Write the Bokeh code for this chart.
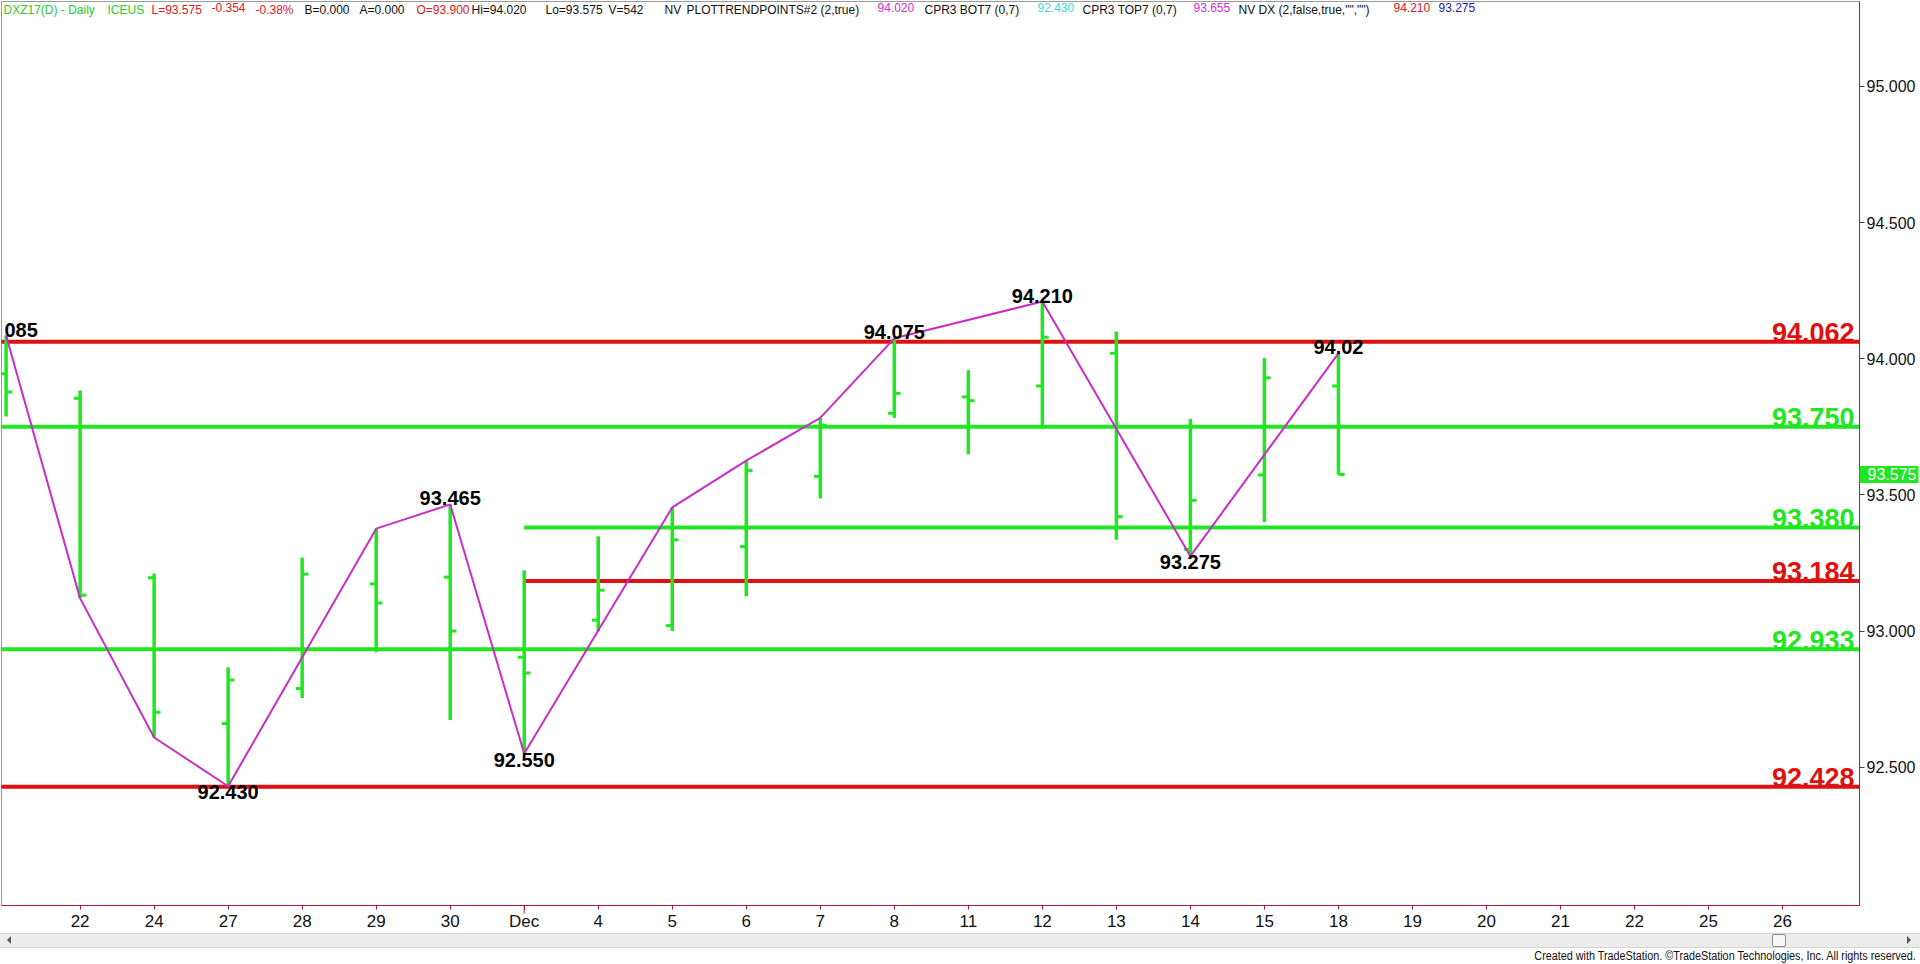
from bokeh.plotting import figure
from bokeh.models import Range1d, FixedTicker, NumeralTickFormatter, Label, Div
from bokeh.layouts import column
from bokeh.core.properties import value
from bokeh.embed import file_html
from bokeh.resources import INLINE

# ---------------- data ----------------
dates = ["Nov 21", "Nov 22", "Nov 24", "Nov 27", "Nov 28", "Nov 29", "Nov 30",
         "Dec 1", "Dec 4", "Dec 5", "Dec 6", "Dec 7", "Dec 8", "Dec 11", "Dec 12",
         "Dec 13", "Dec 14", "Dec 15", "Dec 18", "Dec 19", "Dec 20", "Dec 21",
         "Dec 22", "Dec 25", "Dec 26"]
tick_labels = ["", "22", "24", "27", "28", "29", "30", "Dec", "4", "5", "6", "7", "8",
               "11", "12", "13", "14", "15", "18", "19", "20", "21", "22", "25", "26"]
month_tick = 7

opens  = [93.945, 93.855, 93.196, 92.660, 92.789, 93.173, 93.198, 92.904, 93.040, 93.020,
          93.310, 93.568, 93.800, 93.860, 93.900, 94.020, 93.300, 93.573, 93.900]
highs  = [94.085, 93.883, 93.211, 92.867, 93.270, 93.376, 93.465, 93.223, 93.348, 93.454,
          93.626, 93.783, 94.075, 93.958, 94.210, 94.100, 93.779, 94.003, 94.020]
lows   = [93.788, 93.120, 92.609, 92.430, 92.754, 92.922, 92.673, 92.550, 92.999, 93.000,
          93.128, 93.487, 93.783, 93.649, 93.743, 93.335, 93.275, 93.400, 93.575]
closes = [93.878, 93.131, 92.702, 92.820, 93.209, 93.103, 93.000, 92.846, 93.150, 93.335,
          93.590, 93.756, 93.873, 93.846, 94.079, 93.420, 93.480, 93.930, 93.575]

pivot_idx = [0, 1, 2, 3, 5, 6, 7, 9, 10, 11, 12, 14, 16, 18]
pivot_val = [94.085, 93.120, 92.609, 92.430, 93.376, 93.465, 92.550, 93.454, 93.626,
             93.783, 94.075, 94.210, 93.275, 94.020]

swing_idx = [0, 3, 6, 7, 12, 14, 16, 18]
swing_val = [94.085, 92.430, 93.465, 92.550, 94.075, 94.210, 93.275, 94.020]
swing_txt = ["085", "92.430", "93.465", "92.550", "94.075", "94.210", "93.275", "94.02"]
swing_side = ["high", "low", "high", "low", "high", "high", "low", "high"]

level_vals = [94.062, 93.750, 93.380, 93.184, 92.933, 92.428]
level_txt = ["94.062", "93.750", "93.380", "93.184", "92.933", "92.428"]
level_kind = ["resistance", "support", "support", "resistance", "support", "resistance"]
level_from = [None, None, 7, 7, None, None]   # bar index where the line begins

last_price = 93.575
y_ticks = [92.5, 93.0, 93.5, 94.0, 94.5, 95.0]

hdr_text = ["DXZ17(D) - Daily", "ICEUS", "L=93.575", "-0.354", "-0.38%", "B=0.000",
            "A=0.000", "O=93.900", "Hi=94.020", "Lo=93.575", "V=542", "NV",
            "PLOTTRENDPOINTS#2 (2,true)", "94.020", "CPR3 BOT7 (0,7)", "92.430",
            "CPR3 TOP7 (0,7)", "93.655", 'NV DX (2,false,true,"","")', "94.210", "93.275"]
hdr_kind = ["g", "g", "r", "r", "r", "k", "k", "r", "k", "k", "k", "k", "k", "m", "k",
            "c", "k", "m", "k", "r", "b"]

# ---------------- layout / style ----------------
GREEN = "#22e622"
RED = "#dd1111"
MAG = "#c72ec7"
AXIS = "#b4182c"
HDR_COL = {"g": "#2ec82e", "r": "#d82020", "k": "#111111", "m": "#d030d0",
           "c": "#40d8d8", "b": "#1c1ca0"}
hdr_px = [3, 107, 151, 211, 255, 304, 359, 416, 471, 545, 608, 664, 686, 877, 924,
          1037, 1082, 1193, 1238, 1393, 1438]

W, H_FIG, H_DIV = 1920, 933, 31
FL, FR, FT, FB = 1, 1859, 1, 908          # frame edges in pixels
X0, X1 = -0.0621, 25.040
Y0, Y1 = 91.992, 95.312


def px2x(px):
    return X0 + (px - FL) * (X1 - X0) / (FR - FL)


def py2y(py):
    return Y1 - (py - FT) * (Y1 - Y0) / (FB - FT)


p = figure(width=W, height=H_FIG, x_range=Range1d(X0, X1), y_range=Range1d(Y0, Y1),
           output_backend="svg", toolbar_location=None, title=None,
           y_axis_location="right", x_axis_location="below",
           min_border_left=FL, min_border_top=FT, min_border_right=W - FR,
           min_border_bottom=H_FIG - FB)
p.grid.visible = False
p.background_fill_color = "white"
p.border_fill_color = "white"
p.outline_line_color = "#9a9a9a"

# axes
ya = p.yaxis[0]
ya.ticker = FixedTicker(ticks=y_ticks)
ya.formatter = NumeralTickFormatter(format="0.000")
ya.axis_line_color = AXIS
ya.major_tick_line_color = "#444444"
ya.major_tick_out = 5
ya.major_tick_in = 0
ya.minor_tick_line_color = None
ya.major_label_standoff = 2
ya.major_label_text_font = "Liberation Sans"
ya.major_label_text_font_size = "16px"
ya.major_label_text_color = "#111111"

xa = p.xaxis[0]
xa.ticker = FixedTicker(ticks=list(range(1, len(tick_labels))))
xa.major_label_overrides = {i: t for i, t in enumerate(tick_labels) if t}
xa.axis_line_color = AXIS
xa.major_tick_line_color = AXIS
xa.major_tick_out = 4
xa.major_tick_in = 0
xa.minor_tick_line_color = None
xa.major_label_standoff = 2
xa.major_label_text_font = "Liberation Sans"
xa.major_label_text_font_size = "17px"
xa.major_label_text_color = "#111111"

# longer tick at the month change
p.segment(x0=[month_tick], x1=[month_tick], y0=[py2y(FB)], y1=[py2y(FB + 8)],
          line_color=AXIS, line_width=1, level="overlay")

# level lines
lvl_col = [RED if k == "resistance" else GREEN for k in level_kind]
lvl_x0 = [X0 - 1 if s is None else s for s in level_from]
p.segment(x0=lvl_x0, x1=[X1 + 1] * len(level_vals), y0=level_vals, y1=level_vals,
          line_color=lvl_col, line_width=4)
p.text(x=[X1] * len(level_vals), y=level_vals, text=level_txt, text_color=lvl_col,
       text_align="right", text_baseline="alphabetic", x_offset=-5, y_offset=-9,
       text_font=value("Liberation Sans"), text_font_size="27px", text_font_style="bold")

# OHLC bars
idx = list(range(len(opens)))
TW = 0.085
p.segment(x0=idx, x1=idx, y0=lows, y1=highs, line_color=GREEN, line_width=3.5)
p.segment(x0=[i - TW for i in idx], x1=idx, y0=opens, y1=opens, line_color=GREEN,
          line_width=3)
p.segment(x0=idx, x1=[i + TW for i in idx], y0=closes, y1=closes, line_color=GREEN,
          line_width=3)

# swing line
p.line(pivot_idx, pivot_val, line_color=MAG, line_width=2)

# swing labels (the first one is cut by the left edge in the reference: only its tail shows)
hi = [k for k, s in enumerate(swing_side) if s == "high"]
lo = [k for k, s in enumerate(swing_side) if s == "low"]
hi_full = [k for k in hi if k != 0]
p.text(x=[swing_idx[k] for k in hi_full], y=[swing_val[k] for k in hi_full],
       text=[swing_txt[k] for k in hi_full], text_align="center", text_baseline="alphabetic",
       y_offset=-6, text_color="black", text_font=value("Liberation Sans"),
       text_font_size="20px", text_font_style="bold")
p.text(x=[px2x(4)], y=[swing_val[0]], text=[swing_txt[0]], text_align="left",
       text_baseline="alphabetic", y_offset=-6, text_color="black",
       text_font=value("Liberation Sans"), text_font_size="20px", text_font_style="bold")
p.text(x=[swing_idx[k] for k in lo], y=[swing_val[k] for k in lo],
       text=[swing_txt[k] for k in lo], text_align="center", text_baseline="top",
       y_offset=-1, text_color="black", text_font=value("Liberation Sans"),
       text_font_size="20px", text_font_style="bold")

# header
for t, k, px in zip(hdr_text, hdr_kind, hdr_px):
    p.add_layout(Label(x=px2x(px), y=py2y(3), text=t, text_color=HDR_COL[k],
                       text_font="Liberation Sans", text_font_size="12px",
                       text_baseline="top", text_align="left"))

# last price marker on the price axis (overlay level so it is drawn outside the frame)
p.rect(x=[px2x(1888.5)], y=[last_price], width=59, height=17, width_units="screen",
       height_units="screen", fill_color=GREEN, line_color=None, level="overlay")
p.text(x=[px2x(1916)], y=[last_price], text=[f"{last_price:.3f}"], text_color="white",
       text_align="right", text_baseline="middle", text_font=value("Liberation Sans"),
       text_font_size="16px", level="overlay")

div_html = (
    '<div style="position:relative;width:1920px;height:31px;font-family:\'Liberation Sans\',sans-serif;">'
    '<div style="position:absolute;left:0;top:0;width:1920px;height:15px;background:#ececec;'
    'border-top:1px solid #d4d4d4;border-bottom:1px solid #d4d4d4;box-sizing:border-box;"></div>'
    '<div style="position:absolute;left:7px;top:3px;width:0;height:0;border-top:4px solid transparent;'
    'border-bottom:4px solid transparent;border-right:4px solid #555;"></div>'
    '<div style="position:absolute;left:1907px;top:3px;width:0;height:0;border-top:4px solid transparent;'
    'border-bottom:4px solid transparent;border-left:4px solid #555;"></div>'
    '<div style="position:absolute;left:1772px;top:1px;width:14px;height:13px;background:#f6f6f6;'
    'border:1px solid #8a8a8a;box-sizing:border-box;border-radius:2px;"></div>'
    '<div style="position:absolute;right:4px;top:17px;font-size:12px;line-height:13px;color:#111;'
    'white-space:nowrap;transform:scaleX(0.9);transform-origin:right top;">'
    'Created with TradeStation. &copy;TradeStation Technologies, Inc. All rights reserved.</div>'
    '</div>'
)
div = Div(text=div_html, width=W, height=H_DIV, margin=(0, 0, 0, 0))

layout = column(p, div, spacing=0)

open("out.html", "w").write(file_html(layout, INLINE))
